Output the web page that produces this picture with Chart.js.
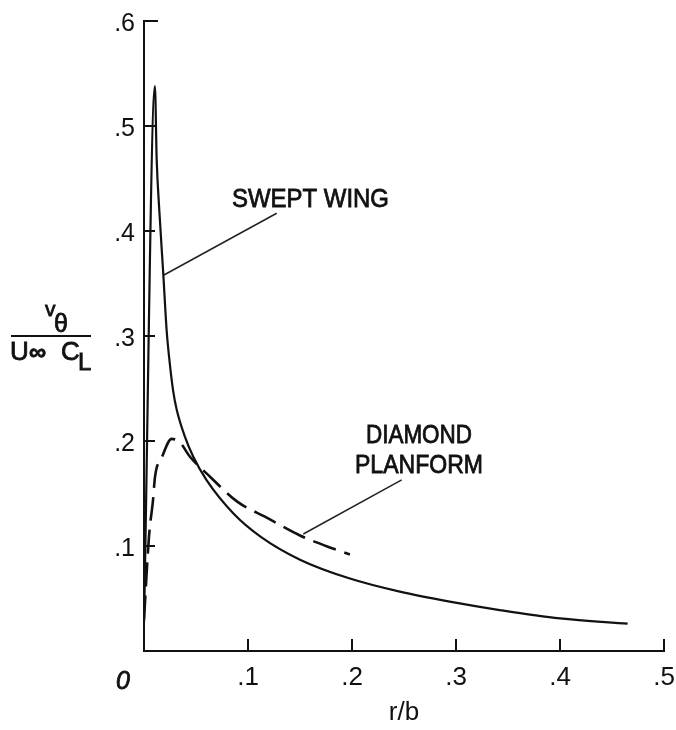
<!DOCTYPE html>
<html lang="en">
<head>
<meta charset="UTF-8">
<title>Swirl velocity vs r/b</title>
<style>
  body {
    margin: 0;
    padding: 0;
    background: #fff;
  }
  canvas {
    display: block;
  }
</style>
</head>
<body>
<canvas id="vortexChart" width="676" height="730"></canvas>

<script src="https://cdn.jsdelivr.net/npm/chart.js"></script>
<script>
  // values: r/b and v_theta / (U_inf C_L)
  const sweptR = [0, 0.0105, 0.0122, 0.0147, 0.0186, 0.0218, 0.025, 0.028, 0.0314, 0.0394, 0.0474, 0.060, 0.086, 0.112, 0.150, 0.198, 0.246, 0.294, 0.342, 0.400, 0.465];
  const sweptV = [0.027, 0.538, 0.468, 0.420, 0.358, 0.305, 0.272, 0.248, 0.230, 0.204, 0.185, 0.163, 0.131, 0.109, 0.087, 0.069, 0.0565, 0.047, 0.039, 0.031, 0.026];

  const diamondR = [0, 0.0048, 0.0087, 0.0106, 0.017, 0.0266, 0.035, 0.0442, 0.0635, 0.090, 0.118, 0.150, 0.175, 0.198];
  const diamondV = [0.030, 0.109, 0.144, 0.166, 0.184, 0.202, 0.198, 0.185, 0.166, 0.142, 0.127, 0.110, 0.100, 0.092];

  // leader lines from the labels to the curves
  const sweptLeaderR = [0.1276, 0.0192];
  const sweptLeaderV = [0.4169, 0.3581];
  const diamondLeaderR = [0.2478, 0.1532];
  const diamondLeaderV = [0.1629, 0.1114];

  const xTicks = [0.1, 0.2, 0.3, 0.4, 0.5];
  const yTicks = [0.1, 0.2, 0.3, 0.4, 0.5, 0.6];

  const FONT = '"Liberation Sans", Arial, sans-serif';

  const toPoints = (xs, ys) => xs.map((x, i) => ({ x: x, y: ys[i] }));
  const tickText = v => (Math.round(v * 10) === 0 ? '' : '.' + Math.round(v * 10));

  Chart.defaults.font.family = FONT;
  Chart.defaults.color = '#111';

  // filled text with a thin outline, closer to the heavy lettering
  function letter(ctx, text, x, y, maxWidth) {
    ctx.fillText(text, x, y, maxWidth);
    ctx.strokeText(text, x, y, maxWidth);
  }

  // inward tick marks, curve labels and the fraction on the y axis
  const figureText = {
    id: 'figureText',
    afterDraw(chart) {
      const ctx = chart.ctx;
      const xs = chart.scales.x;
      const ys = chart.scales.y;
      ctx.save();
      ctx.strokeStyle = '#111';
      ctx.lineWidth = 2;
      xTicks.forEach(v => {
        const px = xs.getPixelForValue(v);
        ctx.beginPath();
        ctx.moveTo(px, ys.bottom);
        ctx.lineTo(px, ys.bottom - 12);
        ctx.stroke();
      });
      yTicks.forEach(v => {
        const py = ys.getPixelForValue(v);
        ctx.beginPath();
        ctx.moveTo(xs.left, py);
        ctx.lineTo(xs.left + (v === 0.6 ? 14 : 11), py);
        ctx.stroke();
      });

      ctx.fillStyle = '#111';
      ctx.textBaseline = 'alphabetic';

      // fraction bar of the y axis title
      ctx.beginPath();
      ctx.moveTo(11, 336);
      ctx.lineTo(91, 336);
      ctx.stroke();

      ctx.lineWidth = 0.8;

      // italic origin label
      ctx.font = 'italic 25px ' + FONT;
      ctx.textAlign = 'center';
      letter(ctx, '0', 123, 689);

      // curve labels
      ctx.font = '26px ' + FONT;
      ctx.textAlign = 'left';
      letter(ctx, 'SWEPT WING', xs.getPixelForValue(0.0846), ys.getPixelForValue(0.423), 157);
      ctx.textAlign = 'center';
      letter(ctx, 'DIAMOND', xs.getPixelForValue(0.2644), ys.getPixelForValue(0.198), 106);
      letter(ctx, 'PLANFORM', xs.getPixelForValue(0.2644), ys.getPixelForValue(0.1695), 128);

      // y axis title: v_theta over U_inf C_L
      ctx.textAlign = 'left';
      ctx.font = '21px ' + FONT;
      letter(ctx, 'v', 45, 316);
      ctx.font = '25px ' + FONT;
      letter(ctx, 'θ', 54, 332);
      ctx.font = '26px ' + FONT;
      letter(ctx, 'U', 10, 360);
      ctx.font = 'bold 24px ' + FONT;
      letter(ctx, '∞', 29, 360);
      ctx.font = '26px ' + FONT;
      letter(ctx, 'C', 61, 360);
      ctx.font = '24px ' + FONT;
      letter(ctx, 'L', 78, 370);
      ctx.restore();
    }
  };

  const vortexChart = new Chart(
    document.getElementById('vortexChart'),
    {
      type: 'scatter',
      data: {
        datasets: [{
          label: 'Swept wing',
          data: toPoints(sweptR, sweptV),
          showLine: true,
          borderColor: '#111',
          borderWidth: 2.2,
          pointRadius: 0,
          cubicInterpolationMode: 'monotone'
        }, {
          label: 'Diamond planform',
          data: toPoints(diamondR, diamondV),
          showLine: true,
          borderColor: '#111',
          borderWidth: 2.6,
          borderDash: [24, 9],
          pointRadius: 0,
          cubicInterpolationMode: 'monotone'
        }, {
          label: 'Swept wing leader',
          data: toPoints(sweptLeaderR, sweptLeaderV),
          showLine: true,
          borderColor: '#222',
          borderWidth: 1.5,
          pointRadius: 0
        }, {
          label: 'Diamond leader',
          data: toPoints(diamondLeaderR, diamondLeaderV),
          showLine: true,
          borderColor: '#222',
          borderWidth: 1.5,
          pointRadius: 0
        }]
      },
      options: {
        responsive: false,
        animation: false,
        devicePixelRatio: 1,
        layout: {
          padding: { top: 21, right: 12, left: 0, bottom: 0 }
        },
        plugins: {
          legend: { display: false },
          tooltip: { enabled: false }
        },
        scales: {
          x: {
            type: 'linear',
            min: 0,
            max: 0.5,
            afterFit: s => { s.height = 79; s.paddingLeft = 0; s.paddingRight = 0; },
            afterBuildTicks: s => { s.ticks = [0].concat(xTicks).map(v => ({ value: v })); },
            ticks: {
              callback: tickText,
              font: { size: 26 },
              color: '#111',
              padding: 11,
              maxRotation: 0
            },
            grid: { display: false, drawTicks: false },
            border: { display: true, color: '#111', width: 2 },
            title: {
              display: true,
              text: 'r/b',
              font: { size: 26 },
              color: '#111',
              padding: { top: 0, bottom: 2 }
            }
          },
          y: {
            type: 'linear',
            min: 0,
            max: 0.6,
            afterFit: s => { s.width = 144; s.paddingTop = 0; s.paddingBottom = 0; },
            afterBuildTicks: s => { s.ticks = [0].concat(yTicks).map(v => ({ value: v })); },
            ticks: {
              callback: tickText,
              font: { size: 25 },
              color: '#111',
              padding: 9,
              labelOffset: 3
            },
            grid: { display: false, drawTicks: false },
            border: { display: true, color: '#111', width: 2 }
          }
        }
      },
      plugins: [figureText]
    }
  );
</script>
</body>
</html>
